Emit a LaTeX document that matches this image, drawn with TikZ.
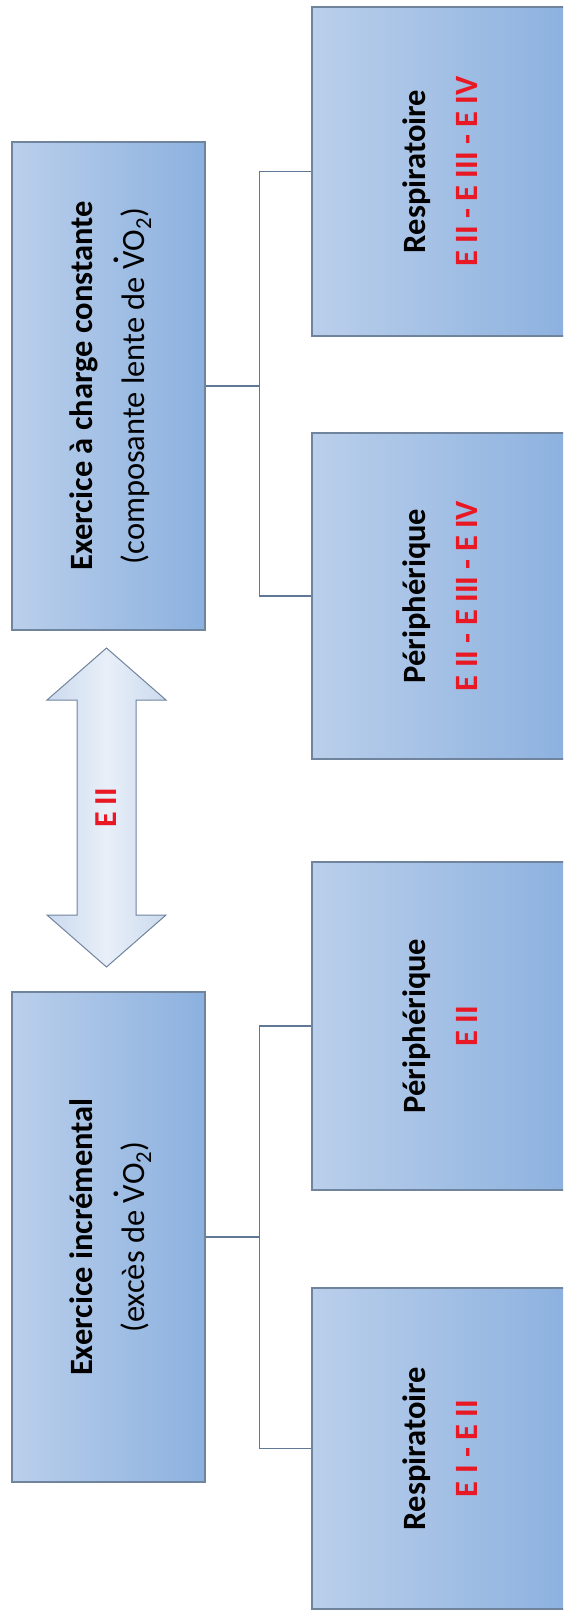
\documentclass[tikz,border=0pt]{standalone}
\usepackage{fontspec}
\setmainfont{Carlito}
\usepackage{graphicx}
\definecolor{boxL}{RGB}{186,207,235}
\definecolor{boxR}{RGB}{140,177,223}
\definecolor{boxB}{RGB}{112,132,158}
\definecolor{lineC}{RGB}{96,120,150}
\definecolor{arrL}{RGB}{203,218,238}
\definecolor{arrM}{RGB}{232,239,248}
\definecolor{txtRed}{RGB}{232,24,36}
\newcommand\Vdot{\leavevmode\hbox{\ooalign{V\cr\hidewidth\raisebox{0.82em}{\bfseries.}\hidewidth\cr}}}
\newcommand\rtext[1]{\rotatebox{90}{\fontsize{32.5}{52}\selectfont\begin{tabular}{@{}c@{}}#1\end{tabular}}}
\newcommand\redt[1]{\textcolor{txtRed}{\textbf{#1}}}
\begin{document}
\begin{tikzpicture}[x=1pt,y=-1pt,
  box/.style={draw=boxB, line width=1.1pt, left color=boxL, right color=boxR, inner sep=0pt, rectangle},
  conn/.style={draw=lineC, line width=1.2pt},
  arrowshape/.style={draw=boxB, line width=1pt, left color=arrL, right color=arrL, middle color=arrM}
]
\useasboundingbox (0,0) rectangle (563,1612);
\clip (0,0) rectangle (563,1612);
% left boxes
\node[box, minimum width=193pt, minimum height=488pt] (b1) at (108.5,386)
  {\rtext{\textbf{Exercice à charge constante}\\(composante lente de \Vdot O\textsubscript{2})}};
\node[box, minimum width=193pt, minimum height=490pt] (b2) at (108.5,1237)
  {\rtext{\textbf{Exercice incrémental}\\(excès de \Vdot O\textsubscript{2})}};
% right boxes
\node[box, minimum width=258pt, minimum height=329pt] (r1) at (441,171.5)
  {\rtext{\textbf{Respiratoire}\\\redt{E II - E III - E IV}}};
\node[box, minimum width=258pt, minimum height=326pt] (p1) at (441,596)
  {\rtext{\textbf{Périphérique}\\\redt{E II - E III - E IV}}};
\node[box, minimum width=258pt, minimum height=328pt] (p2) at (441,1026)
  {\rtext{\textbf{Périphérique}\\\redt{E II}}};
\node[box, minimum width=258pt, minimum height=321pt] (r2) at (441,1448.5)
  {\rtext{\textbf{Respiratoire}\\\redt{E I - E II}}};
% double arrow
\path[arrowshape] (106.5,648) -- (166,700) -- (136,700) -- (136,915) -- (166,915)
  -- (106.5,967) -- (47,915) -- (77,915) -- (77,700) -- (47,700) -- cycle;
\node (lbl) at (106.5,808) {\rotatebox{90}{\fontsize{32}{36}\selectfont\redt{E II}}};
% connectors
\draw[conn] (b1.east) -- ++(54,0) |- (r1.west);
\draw[conn] (b1.east) -- ++(54,0) |- (p1.west);
\draw[conn] (b2.east) -- ++(54,0) |- (p2.west);
\draw[conn] (b2.east) -- ++(54,0) |- (r2.west);
\end{tikzpicture}
\end{document}
